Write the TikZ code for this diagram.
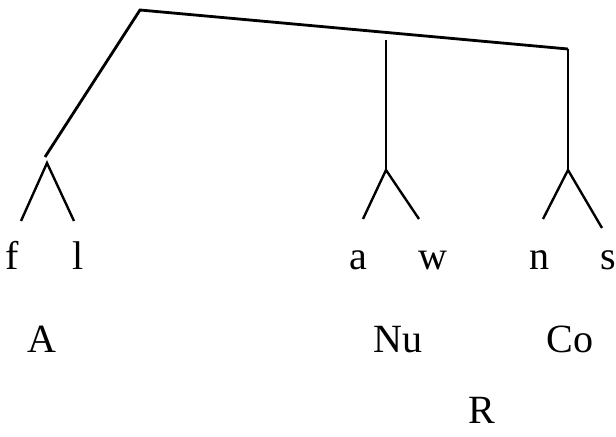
\documentclass[tikz,border=0pt]{standalone}
\usepackage{fontspec}
\setmainfont{Liberation Serif}
\tikzset{
  seg/.style={font=\fontsize{28.5}{34}\selectfont, inner sep=0pt, anchor=base},
  branch/.style={line width=2pt},
  stem/.style={line width=1.3pt},
  leg/.style={line width=1.7pt}
}
\begin{document}
\begin{tikzpicture}
		\useasboundingbox (0,0) rectangle (15.4,10.9);

		% Tree points
		\coordinate (top) at (3.5, 10.65);
		\coordinate (left) at (1.125, 6.975);
		\coordinate (rend) at (14.2, 9.675);
		\coordinate (nutop) at (9.65, 9.9);
		\coordinate (aA) at (1.175, 6.825);
		\coordinate (aNu) at (9.65, 6.65);
		\coordinate (aCo) at (14.2, 6.65);

		% Upper branches
		\draw[branch] (left) -- (top) -- (rend);
		\draw[stem] (nutop) -- (aNu);
		\draw[stem] (rend) -- (aCo);

		% Segments
		\node[seg] (f) at (0.3, 4.175) {f};
		\node[seg] (l) at (1.94, 4.175) {l};
		\node[seg] (a) at (8.95, 4.175) {a};
		\node[seg] (w) at (10.825, 4.175) {w};
		\node[seg] (n) at (13.5, 4.175) {n};
		\node[seg] (s) at (15.2, 4.175) {s};

		% Forks
		\draw[leg] (0.525, 5.375) -- (aA) -- (1.85, 5.375);
		\draw[leg] (9.075, 5.425) -- (aNu) -- (10.475, 5.425);
		\draw[leg] (13.575, 5.425) -- (aCo) -- (15.05, 5.2);

		% Constituents
		\node[seg] (A) at (1.04, 2.1) {A};
		\node[seg] (Nu) at (9.96, 2.1) {Nu};
		\node[seg] (Co) at (14.25, 2.1) {Co};
		\node[seg] (R) at (12.04, 0.32) {R};

	\end{tikzpicture}
\end{document}
